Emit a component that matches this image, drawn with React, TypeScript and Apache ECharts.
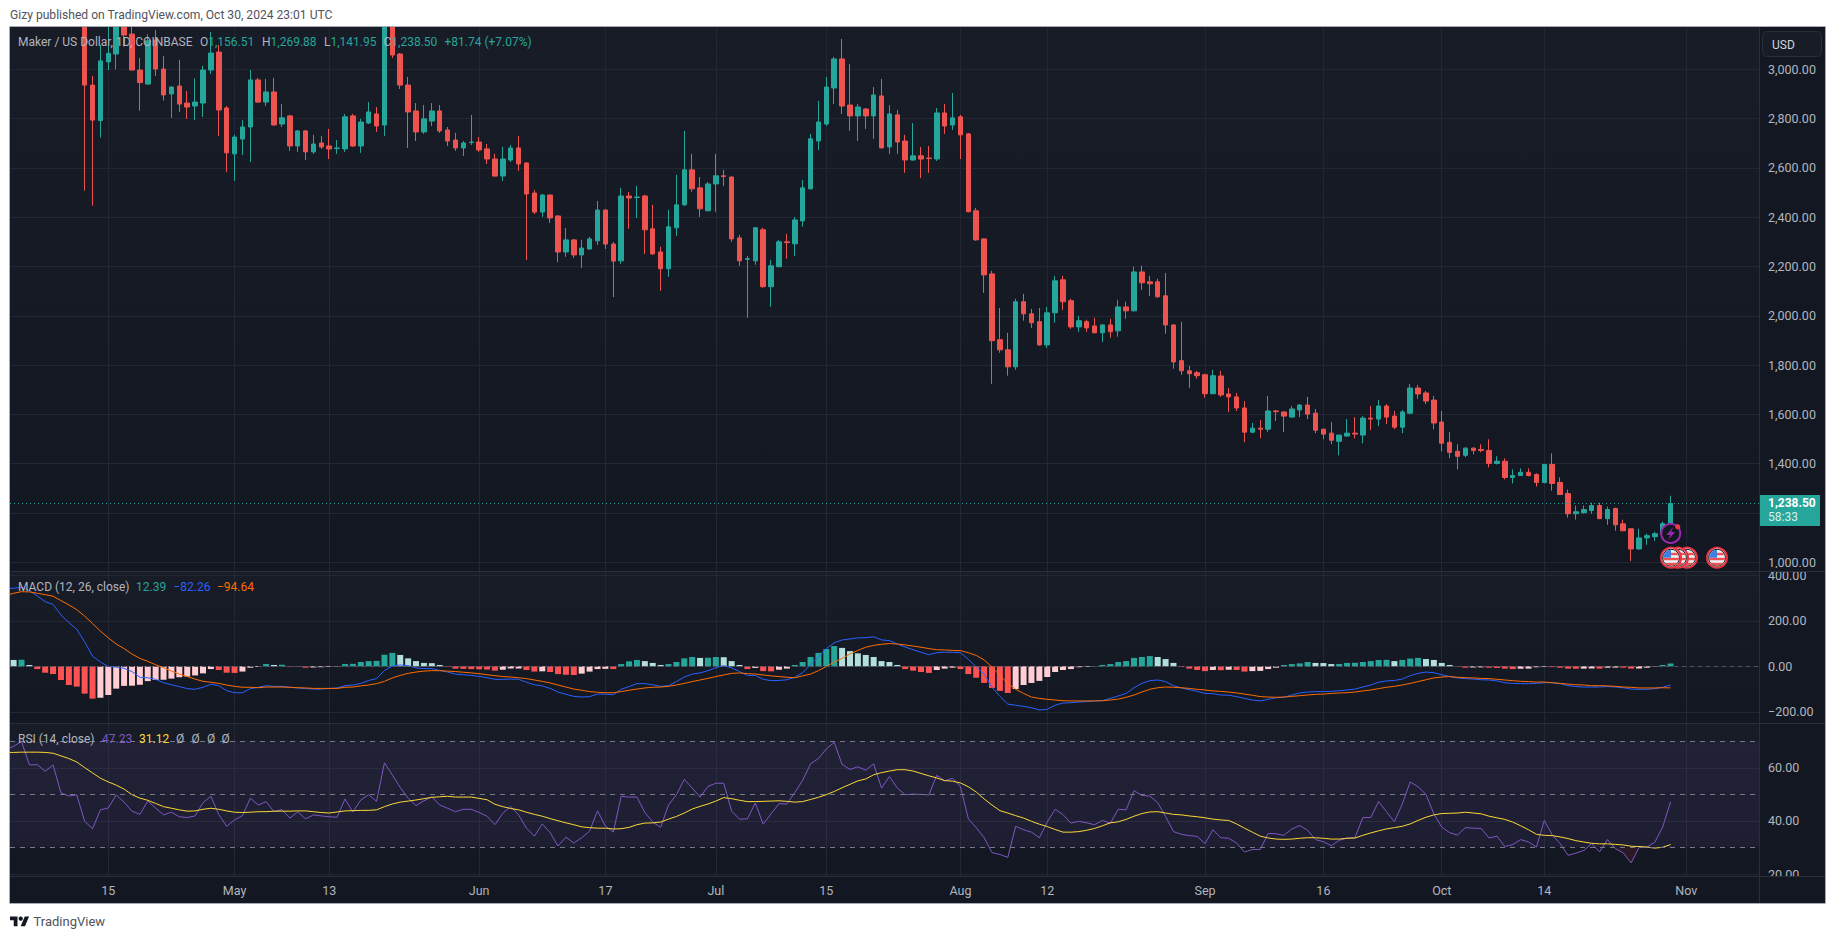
import React, { useEffect, useRef } from "react";
import * as echarts from "echarts";

const DAY = 86400000;
const START = Date.UTC(2024, 3, 2); // session number 0 of the indicator arrays
const CANDLE_OFFSET = 10; // first candle visible in the window is Apr 12

// [open, close, low, high]
const candles: number[][] = [
  [3250,2936,2508,3350],[2936,2794,2447,2973],[2792,3034,2723,3099],[3030,3065,2997,3180],[3062,3190,3000,3260],[3190,3139,3092,3260],[3143,2997,2995,3180],[2997,2946,2832,3045],[2940,3116,2938,3142],[3119,3001,2973,3160],
  [3001,2896,2873,3054],[2900,2928,2803,2932],[2932,2859,2827,3038],[2863,2847,2799,2912],[2851,2867,2794,2963],[2863,2997,2807,3014],[2997,3066,2981,3151],[3070,2835,2730,3099],[2843,2661,2583,2851],[2657,2725,2547,2734],
  [2717,2766,2652,2794],[2766,2957,2624,2997],[2957,2867,2863,2965],[2867,2908,2851,2961],[2908,2774,2772,2965],[2778,2803,2766,2859],[2811,2689,2669,2815],[2689,2750,2665,2754],[2750,2665,2632,2754],[2665,2697,2657,2734],
  [2701,2685,2677,2730],[2689,2677,2636,2758],[2679,2681,2657,2713],[2677,2807,2665,2819],[2811,2689,2685,2819],[2689,2786,2661,2799],[2782,2827,2778,2867],[2819,2770,2746,2847],[2774,3190,2730,3280],[3190,3058,3046,3280],
  [3062,2936,2920,3066],[2936,2827,2681,2969],[2831,2746,2709,2863],[2746,2799,2738,2855],[2790,2831,2770,2863],[2831,2750,2742,2855],[2754,2709,2689,2766],[2713,2681,2669,2742],[2681,2701,2648,2709],[2703,2705,2693,2815],
  [2705,2673,2665,2725],[2677,2636,2616,2697],[2636,2567,2565,2657],[2567,2636,2547,2685],[2632,2681,2624,2693],[2681,2616,2588,2730],[2620,2494,2226,2622],[2498,2421,2413,2510],[2421,2490,2401,2494],[2490,2397,2377,2492],
  [2405,2259,2218,2407],[2259,2308,2239,2356],[2308,2247,2235,2312],[2247,2275,2194,2308],[2271,2312,2269,2320],[2304,2429,2287,2466],[2429,2291,2271,2433],[2291,2222,2076,2300],[2223,2486,2211,2519],[2486,2478,2353,2503],
  [2480,2482,2397,2527],[2486,2349,2251,2491],[2353,2251,2247,2450],[2259,2191,2101,2280],[2191,2361,2158,2430],[2357,2450,2324,2572],[2450,2592,2446,2750],[2592,2515,2503,2657],[2519,2434,2401,2563],[2426,2535,2424,2543],
  [2535,2568,2422,2657],[2568,2565,2527,2592],[2563,2312,2300,2565],[2316,2223,2203,2328],[2229,2232,1992,2243],[2223,2357,2207,2359],[2349,2118,2114,2357],[2118,2203,2036,2227],[2199,2300,2197,2308],[2300,2297,2231,2332],
  [2292,2389,2243,2401],[2385,2519,2361,2551],[2515,2718,2513,2738],[2709,2786,2673,2872],[2778,2928,2770,2969],[2924,3042,2859,3050],[3042,2851,2819,3123],[2855,2811,2750,3022],[2811,2847,2709,2859],[2839,2811,2758,2843],
  [2811,2896,2718,2928],[2892,2681,2679,2961],[2685,2819,2657,2855],[2815,2705,2657,2835],[2709,2632,2580,2734],[2632,2649,2630,2782],[2649,2636,2559,2685],[2640,2638,2580,2689],[2636,2823,2628,2843],[2823,2770,2738,2859],
  [2774,2803,2754,2904],[2807,2734,2636,2815],[2738,2422,2420,2742],[2426,2308,2304,2438],[2312,2166,2093,2314],[2170,1899,1724,2182],[1903,1862,1850,2032],[1862,1793,1757,1931],[1793,2057,1781,2069],[2057,2008,1980,2089],
  [2008,1972,1951,2028],[1976,1882,1878,2032],[1882,2012,1870,2036],[2012,2142,1972,2162],[2146,2057,2024,2162],[2061,1955,1947,2069],[1955,1980,1935,2000],[1976,1951,1935,1984],[1959,1931,1929,1992],[1931,1963,1894,1965],
  [1963,1935,1911,1988],[1939,2036,1915,2065],[2036,2020,1988,2057],[2020,2178,2018,2199],[2178,2134,2105,2203],[2138,2130,2081,2162],[2138,2077,2073,2150],[2081,1963,1927,2174],[1963,1813,1785,1965],[1818,1777,1761,1976],
  [1777,1765,1708,1797],[1769,1757,1745,1777],[1761,1684,1668,1765],[1684,1757,1682,1781],[1756,1679,1671,1777],[1683,1671,1610,1707],[1671,1626,1614,1687],[1626,1528,1487,1654],[1528,1544,1524,1565],[1544,1540,1503,1577],
  [1540,1614,1528,1675],[1614,1611,1573,1618],[1610,1593,1528,1612],[1589,1622,1587,1634],[1618,1638,1589,1642],[1638,1601,1581,1671],[1605,1536,1524,1622],[1540,1520,1499,1542],[1524,1495,1479,1569],[1491,1516,1434,1518],
  [1512,1524,1510,1581],[1524,1520,1503,1589],[1516,1585,1483,1593],[1585,1581,1536,1634],[1581,1634,1552,1658],[1634,1589,1561,1642],[1593,1548,1540,1614],[1548,1610,1524,1618],[1605,1707,1601,1724],[1707,1683,1663,1720],
  [1687,1654,1642,1695],[1658,1565,1540,1675],[1569,1483,1450,1614],[1487,1446,1422,1528],[1450,1430,1377,1479],[1434,1463,1426,1467],[1463,1454,1438,1467],[1458,1454,1446,1479],[1454,1401,1385,1499],[1401,1410,1397,1430],
  [1410,1344,1336,1422],[1344,1352,1320,1377],[1352,1365,1350,1381],[1365,1352,1348,1381],[1356,1324,1307,1361],[1324,1397,1320,1399],[1397,1320,1291,1442],[1324,1275,1273,1344],[1279,1197,1181,1295],[1197,1205,1173,1230],
  [1201,1214,1197,1230],[1210,1230,1197,1242],[1230,1177,1175,1242],[1177,1214,1152,1226],[1218,1152,1128,1222],[1156,1128,1126,1173],[1136,1054,1005,1138],[1054,1099,1052,1136],[1099,1108,1071,1116],[1104,1116,1087,1124],
  [1116,1156.76,1110,1165],[1156.51,1238.5,1141.95,1269.88],
];

const macdLine: number[] = [
  343,343,347,333,309,284,272,226,192,163,
  108,45,19,-1,-3,-9,-23,-48,-50,-57,
  -72,-81,-89,-98,-101,-92,-79,-85,-107,-116,
  -116,-98,-92,-85,-88,-88,-92,-95,-98,-100,
  -100,-97,-95,-85,-82,-75,-62,-54,-18,1,
  6,3,-7,-10,-10,-18,-25,-34,-37,-40,
  -44,-50,-57,-57,-56,-57,-70,-81,-86,-97,
  -113,-123,-132,-135,-133,-122,-122,-125,-101,-89,
  -76,-76,-81,-88,-85,-67,-47,-34,-29,-19,
  -6,3,-7,-23,-40,-40,-57,-63,-62,-59,
  -48,-28,7,42,78,103,116,120,125,126,
  130,116,113,98,85,73,62,51,60,62,
  62,60,31,-3,-34,-92,-132,-166,-171,-176,
  -182,-192,-189,-171,-161,-160,-157,-155,-152,-151,
  -141,-130,-119,-94,-75,-63,-60,-67,-85,-95,
  -103,-110,-119,-120,-126,-127,-133,-141,-148,-152,
  -145,-138,-136,-126,-117,-113,-111,-111,-110,-107,
  -104,-100,-91,-82,-70,-64,-62,-56,-41,-31,
  -25,-28,-37,-45,-51,-54,-56,-59,-60,-64,
  -72,-75,-76,-76,-75,-72,-72,-76,-85,-89,
  -91,-91,-91,-89,-91,-94,-100,-101,-101,-98,
  -92,-82.26,
];

const signalLine: number[] = [
  312,321,328,327,321,315,308,289,270,249,
  221,188,155,125,98,78,54,35,22,7,
  -6,-21,-34,-45,-56,-66,-70,-75,-82,-88,
  -92,-92,-94,-91,-91,-91,-92,-94,-95,-97,
  -97,-97,-97,-92,-91,-86,-82,-76,-66,-51,
  -40,-31,-25,-21,-19,-19,-21,-23,-26,-29,
  -32,-37,-41,-45,-47,-50,-54,-60,-66,-73,
  -82,-91,-100,-105,-111,-114,-116,-116,-111,-105,
  -100,-95,-92,-91,-88,-82,-75,-67,-60,-53,
  -45,-38,-31,-29,-32,-34,-38,-42,-45,-48,
  -50,-42,-34,-19,-1,19,35,54,70,84,
  92,97,100,98,94,89,84,78,73,72,
  70,69,60,48,28,-3,-40,-75,-101,-119,
  -135,-141,-145,-148,-151,-152,-152,-152,-152,-151,
  -148,-144,-136,-126,-113,-101,-94,-91,-92,-94,
  -97,-101,-104,-108,-110,-113,-117,-122,-127,-133,
  -135,-136,-135,-132,-129,-126,-123,-122,-119,-117,
  -116,-113,-108,-104,-98,-92,-88,-82,-75,-67,
  -59,-51,-47,-45,-48,-50,-51,-53,-54,-57,
  -60,-63,-66,-67,-69,-69,-72,-75,-78,-81,
  -82,-85,-85,-86,-88,-91,-92,-95,-95,-95,
  -94,-94.64,
];

const macdHist: number[] = [
  30,28,29,6,-12,-28,-34,-60,-82,-89,
  -120,-142,-138,-126,-98,-86,-85,-81,-65,-60,
  -59,-54,-48,-45,-40,-31,-12,-16,-28,-29,
  -23,-6,-3,10,6,7,-2,-1,-6,-5,
  -4,-3,-1.5,10,11,19,23,24,51,59,
  50,35,23,15,14,6,-2,-10,-11,-12,
  -13,-14,-19,-15,-10,-9.5,-16,-23,-22,-25,
  -34,-37,-38,-32,-23,-12,-11,-12,10,22,
  28,23,15,6,10,19,35,41,37,38,
  41,40,23,6,-12,-7,-21,-22,-15,-10,
  6,19,41,59,76,89,81,67,57,50,
  41,23,19,6,-12,-19,-25,-29,-16,-10,
  -6,-12,-34,-50,-73,-95,-108,-117,-100,-82,
  -73,-64,-47,-25,-16,-12,-4,-3,1.5,6,
  10,19,23,37,41,45,41,32,15,-3,
  -10,-16,-21,-16,-17,-15,-16,-23,-21,-20,
  -12,-6,6,10,13,19,15,14.5,10,10.5,
  15,15.5,19,23,28,28.5,23,28,34,37,
  32,28,15,6,-1.5,-6,-5,-4.5,-6,-7,
  -10,-12,-10.5,-10,-4,-3,-3.5,-6,-10,-10.5,
  -10,-9.5,-10,-6,-5.5,-6,-10,-9.5,-6,-1.5,
  6,12.39,
];

const rsiLine: number[] = [
  66.9,68.1,69.9,61.1,61.2,58.7,61.1,50.6,49.4,49.8,
  39.9,37.1,44.2,44.9,49.8,47.1,43.7,42.5,47.5,44.9,
  42.3,43.3,41.6,41.3,41.9,46.9,49.3,42.4,38.0,40.4,
  42.0,48.6,46.0,47.3,43.5,44.3,41.1,43.4,40.8,42.3,
  41.9,41.6,41.4,48.3,43.4,47.9,49.9,47.4,61.9,57.3,
  52.6,48.6,45.8,47.6,49.1,46.0,44.8,43.5,44.4,44.4,
  43.2,41.8,38.6,42.9,45.5,42.3,37.3,34.3,38.9,35.6,
  30.6,33.9,31.7,33.7,36.2,43.8,38.1,35.8,49.3,49.0,
  49.0,43.2,39.6,37.6,46.0,49.9,55.7,52.4,49.0,53.0,
  54.2,54.2,43.7,40.7,40.8,46.8,38.8,42.7,46.5,46.4,
  50.7,55.3,61.5,63.5,67.1,69.6,61.3,59.4,60.4,59.1,
  61.5,52.4,56.7,52.4,49.9,50.1,50.0,49.8,57.2,55.1,
  56.1,52.9,40.8,37.5,33.7,28.1,27.4,26.3,38.0,36.7,
  35.8,33.7,39.6,44.4,42.4,39.2,39.9,39.3,38.6,40.2,
  39.2,44.4,44.2,51.4,49.6,49.4,46.9,41.7,36.0,35.0,
  34.5,34.2,31.5,36.7,33.7,33.5,31.7,28.3,29.3,29.3,
  35.3,35.2,34.6,37.0,38.3,36.5,33.0,32.2,30.7,32.7,
  33.6,33.7,41.3,41.3,47.3,43.5,39.7,46.4,54.7,52.9,
  50.0,42.7,37.7,35.6,34.7,37.5,37.3,37.2,33.6,34.3,
  30.4,31.1,33.0,32.1,30.2,40.2,34.8,31.5,27.1,27.9,
  28.9,31.5,28.4,33.0,29.6,28.0,24.2,30.0,30.2,32.0,
  37.7,47.23,
];

const rsiAverage: number[] = [
  65.8,65.8,65.9,65.9,65.9,65.8,65.5,64.5,63.5,62.2,
  60.1,58.1,56.1,54.7,53.5,52.0,49.9,48.6,47.8,46.6,
  45.4,44.8,44.2,43.7,43.8,44.4,44.8,44.4,43.8,43.3,
  43.2,43.3,43.5,43.5,43.7,43.7,43.7,43.8,43.8,43.5,
  43.2,43.0,43.4,43.8,43.9,44.0,44.0,44.2,45.4,46.4,
  47.1,47.5,47.9,48.4,48.9,49.1,49.3,49.0,49.0,49.0,
  48.5,48.0,46.3,45.4,44.7,44.2,43.3,42.5,41.8,40.9,
  40.1,39.3,38.6,37.8,37.5,37.3,37.3,37.0,37.1,37.6,
  38.6,39.2,39.3,39.6,40.7,41.7,43.0,44.5,45.5,46.4,
  47.5,48.8,48.4,47.8,47.3,47.3,47.4,47.5,47.6,47.4,
  47.1,47.3,48.1,48.9,49.9,51.1,52.5,53.8,55.1,55.8,
  57.4,58.2,58.8,59.3,59.3,58.8,57.9,57.0,56.2,55.2,
  55.0,54.3,52.9,50.9,48.3,46.0,43.9,43.0,42.0,41.1,
  39.9,38.8,37.9,36.8,35.8,35.8,36.0,36.5,37.2,38.2,
  39.3,39.7,40.6,41.8,42.8,43.4,43.5,43.0,42.5,42.3,
  41.9,41.6,41.2,40.7,40.4,40.2,38.9,37.3,35.8,34.3,
  33.6,33.2,33.1,33.2,33.5,33.7,33.7,33.5,33.2,33.2,
  33.5,33.6,34.6,35.5,36.3,37.0,37.5,38.0,38.9,40.2,
  41.4,42.3,42.8,42.9,43.0,43.3,43.0,42.7,41.8,41.2,
  40.6,39.6,38.2,36.7,35.0,34.6,34.5,34.0,33.4,32.6,
  32.1,31.6,31.4,31.4,31.2,31.0,30.5,30.4,30.2,29.8,
  30.1,31.12,
];

const priceGridTicks = [1000, 1200, 1400, 1600, 1800, 2000, 2200, 2400, 2600, 2800, 3000];
const priceLabelTicks = [1000, 1400, 1600, 1800, 2000, 2200, 2400, 2600, 2800, 3000];
const macdTicks = [-200, 0, 200, 400];
const rsiTicks = [20, 40, 60];
const rsiLevels = [70, 50, 30];
const dateTicks: [number, number, string][] = [
  [3, 15, "15"], [4, 1, "May"], [4, 13, "13"], [5, 1, "Jun"], [5, 17, "17"], [6, 1, "Jul"], [6, 15, "15"],
  [7, 1, "Aug"], [7, 12, "12"], [8, 1, "Sep"], [8, 16, "16"], [9, 1, "Oct"], [9, 14, "14"], [10, 1, "Nov"],
];
const lastPrice = 1238.5;
const eventOffsets = [1717, 1687, 1678, 1671];

const FONT = "Roboto, sans-serif";
const BG_TOP = "#181c27";
const BG_BOTTOM = "#131722";
const GRID = "#232733";
const AXIS_TEXT = "#b2b5be";
const UP = "#26a69a";
const DOWN = "#ef5350";

const sessionOf = (m: number, d: number) => Math.round((Date.UTC(2024, m, d) - START) / DAY);
const tickSessions = dateTicks.map(([m, d]) => sessionOf(m, d));
const tickName = new Map(dateTicks.map(([m, d, s]) => [sessionOf(m, d), s]));
const fmtNum = (v: number) =>
  (v < 0 ? "\u2212" : "") + Math.abs(v).toLocaleString("en-US", { minimumFractionDigits: 2, maximumFractionDigits: 2 });

const paneGradient = {
  type: "linear", x: 0, y: 0, x2: 0, y2: 1,
  colorStops: [{ offset: 0, color: BG_TOP }, { offset: 1, color: BG_BOTTOM }],
};

function histColor(v: number, prev: number) {
  if (v >= 0) return v > prev ? "#26a69a" : "#b2dfdb";
  return v > prev ? "#ffcdd2" : "#ff5252";
}

function label(x: number, y: number, text: string, fill: string, size = 12, z = 80, extra: any = {}) {
  return {
    type: "text", x, y, z, silent: true,
    style: { text, fill, font: `${size}px ${FONT}`, textVerticalAlign: "middle", textAlign: "left", ...extra },
  };
}

function rule(x1: number, y1: number, x2: number, y2: number, stroke: string, z = 60) {
  return { type: "line", z, silent: true, shape: { x1, y1, x2, y2 }, style: { stroke, lineWidth: 1 } };
}

function flag(cx: number, cy: number, z: number) {
  const poly = (points: number[][], fill: string) => ({ type: "polygon", z, shape: { points }, style: { fill } });
  return {
    type: "group", x: cx, y: cy, z, silent: true,
    children: [
      { type: "circle", z, shape: { cx: 0, cy: 0, r: 10 }, style: { fill: "#ffffff", stroke: "#e8323f", lineWidth: 2 } },
      { type: "circle", z, shape: { cx: 0, cy: 0, r: 8.4 }, style: { fill: "#f0f3fa", stroke: "#131722", lineWidth: 1 } },
      poly([[0, -5], [6.2, -5], [7.6, -2.5], [0, -2.5]], "#ef5350"),
      poly([[-8, 0], [8, 0], [7.6, 2.5], [-7.6, 2.5]], "#ef5350"),
      poly([[-6.2, 5], [6.2, 5], [3.5, 7.2], [0, 8], [-3.5, 7.2]], "#ef5350"),
      poly([[-8, 0], [0, 0], [0, -8], [-3, -7.4], [-6, -5.3], [-7.6, -2.5]], "#3f7fe0"),
    ],
  };
}

function buildGraphic() {
  const els: any[] = [
    { type: "rect", z: -10, silent: true, shape: { x: 10, y: 27, width: 1815, height: 876 }, style: { fill: BG_BOTTOM } },
    // the white page around the frame hides marks that run past the panes
    { type: "rect", z: 65, silent: true, shape: { x: 0, y: 0, width: 1835, height: 27 }, style: { fill: "#ffffff" } },
    { type: "rect", z: 65, silent: true, shape: { x: 0, y: 27, width: 10, height: 880 }, style: { fill: "#ffffff" } },
    { type: "rect", z: 55, silent: true, shape: { x: 1760, y: 568, width: 65, height: 4 }, style: { fill: BG_BOTTOM } },
    { type: "rect", z: 55, silent: true, shape: { x: 1760, y: 876, width: 65, height: 6 }, style: { fill: BG_BOTTOM } },
    rule(10, 571.5, 1825, 571.5, "#2a2e39"),
    rule(10, 723.5, 1825, 723.5, "#2a2e39"),
    rule(10, 876.5, 1825, 876.5, "#2a2e39"),
    rule(1759.5, 27, 1759.5, 903, "#2a2e39"),
    { type: "rect", z: 70, silent: true, shape: { x: 9.5, y: 26.5, width: 1816, height: 877 }, style: { fill: "none", stroke: "#a8abb3", lineWidth: 1 } },

    label(10, 15, "Gizy published on TradingView.com, Oct 30, 2024 23:01 UTC", "#50535e", 12.1),

    label(18, 41.5, "Maker / US Dollar, 1D, COINBASE", AXIS_TEXT, 12),
    ...(
      [[200, "O", "1,156.51"], [262, "H", "1,269.88"], [324, "L", "1,141.95"], [383.5, "C", "1,238.50"]] as [number, string, string][]
    ).map(([x, k, v]) => ({
      type: "text", x, y: 41.5, z: 80, silent: true,
      style: {
        text: `{k|${k}}{v|${v}}`, textVerticalAlign: "middle", font: `12px ${FONT}`,
        rich: { k: { fill: AXIS_TEXT, font: `12px ${FONT}` }, v: { fill: UP, font: `12px ${FONT}` } },
      },
    })),
    label(444.5, 41.5, "+81.74 (+7.07%)", UP, 12),

    label(18, 586.5, "MACD (12, 26, close)", AXIS_TEXT, 12),
    label(136, 586.5, "12.39", UP, 12),
    label(173.5, 586.5, "\u221282.26", "#2962ff", 12),
    label(217, 586.5, "\u221294.64", "#ff6d00", 12),
    label(18, 739, "RSI (14, close)", AXIS_TEXT, 12),
    label(102, 739, "47.23", "#7e57c2", 12),
    label(139, 739, "31.12", "#fdd835", 12),
    label(176, 739, "\u00d8", AXIS_TEXT, 12),
    label(191.5, 739, "\u00d8", AXIS_TEXT, 12),
    label(207, 739, "\u00d8", AXIS_TEXT, 12),
    label(221.5, 739, "\u00d8", AXIS_TEXT, 12),

    { type: "rect", z: 80, silent: true, shape: { x: 1762.5, y: 31.5, width: 59, height: 25, r: 4 }, style: { fill: BG_TOP, stroke: "#2a2e39", lineWidth: 1 } },
    label(1772, 44.5, "USD", "#d1d4dc", 12, 81),

    { type: "rect", z: 80, silent: true, shape: { x: 1760, y: 495, width: 60, height: 31 }, style: { fill: UP } },
    label(1768, 503, "1,238.50", "#ffffff", 12, 81, { font: `bold 12px ${FONT}` }),
    label(1768, 517, "58:33", "#d8efec", 12, 81),

    { type: "circle", z: 82, silent: true, shape: { cx: 1670.7, cy: 533.4, r: 9.5 }, style: { fill: BG_BOTTOM, stroke: "#9c27b0", lineWidth: 2 } },
    { type: "polygon", z: 83, silent: true, shape: { points: [[1673.2, 526.9], [1666.4, 534.9], [1670.3, 534.9], [1668.2, 539.9], [1675, 531.9], [1671.1, 531.9]] }, style: { fill: "#9c27b0" } },
    { type: "circle", z: 84, silent: true, shape: { cx: 1677.7, cy: 526.7, r: 2.6 }, style: { fill: "#f23645" } },

    {
      type: "group", x: 10, y: 914.4, scaleX: 0.536, scaleY: 0.536, z: 80, silent: true,
      children: [
        { type: "polygon", z: 80, shape: { points: [[0, 4], [14, 4], [14, 22], [7, 22], [7, 11], [0, 11]] }, style: { fill: "#131722" } },
        { type: "polygon", z: 80, shape: { points: [[20, 22], [27.5, 4], [35.5, 4], [28, 22]] }, style: { fill: "#131722" } },
        { type: "circle", z: 80, shape: { cx: 20, cy: 8, r: 4 }, style: { fill: "#131722" } },
      ],
    },
    label(33.5, 921, "TradingView", "#50535e", 13),
  ];
  eventOffsets.forEach((x, i) => els.push(flag(x, 557.7, 85 + i)));
  return els;
}

function buildOption() {
  const xMin = 0.54;
  const xMax = 222.21;
  const grids = [
    { left: 10, width: 1749, top: 27, height: 544 },
    { left: 10, width: 1749, top: 572, height: 151 },
    { left: 10, width: 1749, top: 724, height: 152 },
  ];
  const xAxis = grids.map((_, gridIndex) => ({
    type: "value", gridIndex, min: xMin, max: xMax,
    axisLine: { show: false },
    axisTick: { show: false, customValues: tickSessions },
    splitLine: { show: true, lineStyle: { color: GRID, width: 1 } },
    axisLabel: {
      show: gridIndex === 2, customValues: tickSessions, margin: 8, color: AXIS_TEXT, fontFamily: FONT, fontSize: 12.5,
      hideOverlap: false, showMinLabel: true, showMaxLabel: true,
      formatter: (v: number) => tickName.get(v) ?? "",
    },
  }));
  const yCommon = (gridIndex: number, min: number, max: number, gridTicks: number[], labelTicks: number[]) => ({
    type: "value", gridIndex, min, max, position: "right",
    axisLine: { show: false },
    axisTick: { show: false, customValues: gridTicks },
    splitLine: { show: true, lineStyle: { color: GRID, width: 1 } },
    axisLabel: {
      customValues: labelTicks, margin: 9, color: AXIS_TEXT, fontFamily: FONT, fontSize: 12.5, padding: [0, 0, 4, 0],
      hideOverlap: false, showMinLabel: true, showMaxLabel: true, formatter: (v: number) => fmtNum(v),
    },
  });
  const yAxis = [
    yCommon(0, 964.7, 3171.6, priceGridTicks, priceLabelTicks),
    yCommon(1, -249, 414.5, macdTicks, macdTicks),
    yCommon(2, 19.3, 76.5, rsiTicks, rsiTicks),
  ];
  const at = (arr: number[]) => arr.map((v, i) => [i, v]);
  const series: any[] = [
    {
      type: "candlestick", name: "Maker / US Dollar", xAxisIndex: 0, yAxisIndex: 0, barWidth: 5, z: 3,
      encode: { x: 0, y: [1, 2, 3, 4] },
      data: candles.map((c, i) => [i + CANDLE_OFFSET, ...c]),
      itemStyle: { color: UP, color0: DOWN, borderColor: UP, borderColor0: DOWN, borderWidth: 1 },
      markLine: {
        silent: true, symbol: "none", animation: false, label: { show: false },
        lineStyle: { color: UP, type: [1, 3], width: 1, opacity: 1 },
        data: [{ yAxis: lastPrice }],
      },
    },
    {
      type: "bar", name: "Histogram", xAxisIndex: 1, yAxisIndex: 1, barWidth: 6, z: 2,
      data: macdHist.map((v, i) => ({
        value: [i, v],
        itemStyle: { color: histColor(v, i ? macdHist[i - 1] : v - 1) },
      })),
      markLine: {
        silent: true, symbol: "none", animation: false, label: { show: false },
        lineStyle: { color: "#50535e", type: [4, 4], width: 1 },
        data: [{ yAxis: 0 }],
      },
    },
    { type: "line", name: "MACD", xAxisIndex: 1, yAxisIndex: 1, showSymbol: false, z: 3, data: at(macdLine), lineStyle: { color: "#2962ff", width: 1 } },
    { type: "line", name: "Signal", xAxisIndex: 1, yAxisIndex: 1, showSymbol: false, z: 3, data: at(signalLine), lineStyle: { color: "#ff6d00", width: 1 } },
    {
      type: "line", name: "RSI", xAxisIndex: 2, yAxisIndex: 2, showSymbol: false, z: 3, data: at(rsiLine),
      lineStyle: { color: "#7e57c2", width: 1 },
      markArea: {
        silent: true, animation: false,
        itemStyle: { color: "rgba(126,87,194,0.1)" },
        data: [[{ yAxis: rsiLevels[0] }, { yAxis: rsiLevels[2] }]],
      },
      markLine: {
        silent: true, symbol: "none", animation: false, label: { show: false },
        lineStyle: { color: "#787b86", type: [5, 5], width: 1 },
        data: rsiLevels.map((yAxis) => ({ yAxis })),
      },
    },
    {
      type: "line", name: "RSI oversold", xAxisIndex: 2, yAxisIndex: 2, showSymbol: false, z: 2,
      data: at(rsiLine).slice(204, 208),
      lineStyle: { width: 0 },
      areaStyle: { origin: rsiLevels[2], color: "rgba(242,54,69,0.14)" },
    },
    { type: "line", name: "RSI average", xAxisIndex: 2, yAxisIndex: 2, showSymbol: false, z: 4, data: at(rsiAverage), lineStyle: { color: "#fdd835", width: 1 } },
  ];
  return {
    animation: false,
    backgroundColor: "#ffffff",
    textStyle: { fontFamily: FONT },
    grid: grids.map((g) => ({ ...g, show: true, borderWidth: 0, backgroundColor: paneGradient as any })),
    xAxis, yAxis, series,
    graphic: { elements: buildGraphic() },
  };
}

export default function App() {
  const ref = useRef<HTMLDivElement>(null);
  useEffect(() => {
    document.body.style.margin = "0";
    document.body.style.overflow = "hidden";
    const chart = echarts.init(ref.current!, null, { renderer: "svg" });
    chart.setOption(buildOption() as any);
    return () => chart.dispose();
  }, []);
  return <div ref={ref} style={{ width: 1835, height: 939 }} />;
}
